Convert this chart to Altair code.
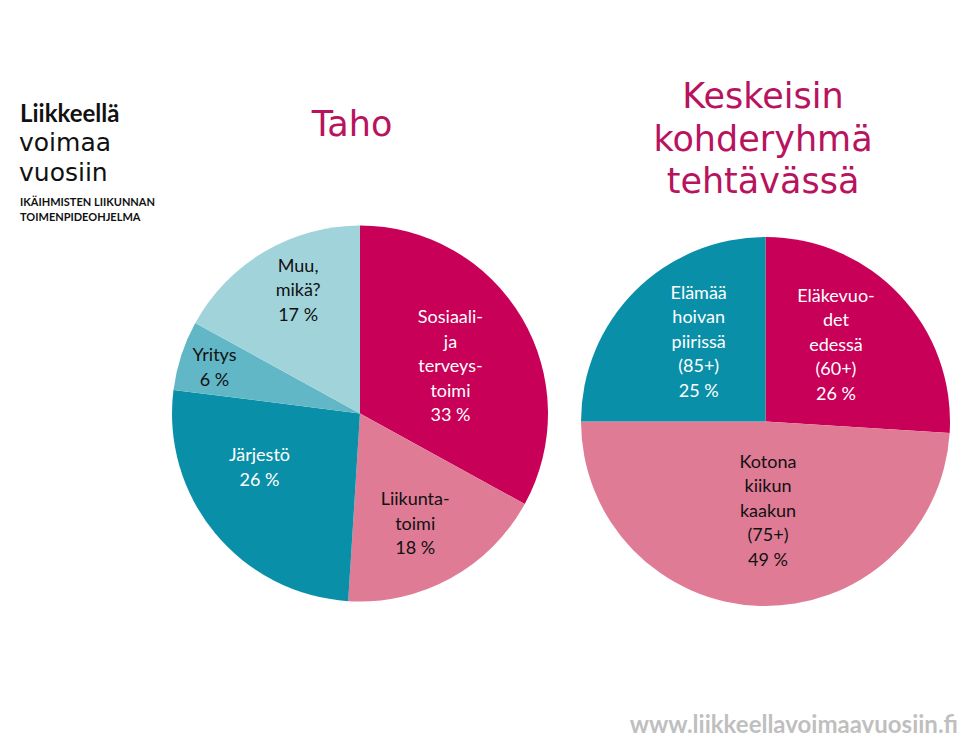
import altair as alt
import pandas as pd

# ---- data ----
taho_cats = ["Sosiaali- ja terveystoimi", "Liikuntatoimi", "Järjestö", "Yritys", "Muu, mikä?"]
taho_vals = [33, 18, 26, 6, 17]
taho_labels = ["Sosiaali-\nja\nterveys-\ntoimi", "Liikunta-\ntoimi", "Järjestö", "Yritys", "Muu,\nmikä?"]

kohde_cats = ["Eläkevuodet edessä (60+)", "Kotona kiikun kaakun (75+)", "Elämää hoivan piirissä (85+)"]
kohde_vals = [26, 49, 25]
kohde_labels = ["Eläkevuo-\ndet\nedessä\n(60+)", "Kotona\nkiikun\nkaakun\n(75+)", "Elämää\nhoivan\npiirissä\n(85+)"]

# ---- styles / layout ----
CRIMSON = "#C80058"
PINK = "#E07B96"
TEAL = "#0A8FA8"
MIDTEAL = "#62B7C7"
LIGHTTEAL = "#A1D4DA"
TITLE_COL = "#B8135E"

taho_colors = [CRIMSON, PINK, TEAL, MIDTEAL, LIGHTTEAL]
kohde_colors = [CRIMSON, PINK, TEAL]
# label placement: fraction of radius, and angular nudge (degrees) from the slice middle
taho_label_frac = [0.54, 0.66, 0.61, 0.81, 0.73]
taho_label_nudge = [3.6, 2.4, 10.8, -0.8, 3.8]
kohde_label_frac = [0.56, 0.49, 0.56]
kohde_label_nudge = [-3.8, -3.4, 4.7]
dark_slices = ["Sosiaali- ja terveystoimi", "Järjestö",
               "Eläkevuodet edessä (60+)", "Elämää hoivan piirissä (85+)"]

FONT = "Lato"
LH = 24.5


def pie(cats, vals, labels, colors, fracs, nudges, cx, cy, r):
    df = pd.DataFrame({
        "cat": cats,
        "val": vals,
        "order": list(range(len(cats))),
        "text": [f"{l}\n{v} %" for l, v in zip(labels, vals)],
        "frac": fracs,
        "nudge": nudges,
    })
    base = alt.Chart(df)
    arcs = base.mark_arc(radius=r).encode(
        theta=alt.Theta("val:Q", stack=True),
        order=alt.Order("order:Q"),
        color=alt.Color("cat:N", scale=alt.Scale(domain=cats, range=colors), legend=None),
        x=alt.value(cx),
        y=alt.value(cy),
        tooltip=["cat:N", "val:Q"],
    )
    text = base.transform_window(
        cum="sum(val)", sort=[alt.SortField("order")], frame=[None, 0]
    ).transform_joinaggregate(
        total="sum(val)"
    ).transform_calculate(
        mid="2*PI*(datum.cum - datum.val/2)/datum.total + datum.nudge*PI/180",
        lines="split(datum.text, '\\n')",
        idxs="sequence(length(split(datum.text, '\\n')))",
        n="length(split(datum.text, '\\n'))",
    ).transform_flatten(
        ["lines", "idxs"], ["line", "idx"]
    ).transform_calculate(
        px=f"{cx} + datum.frac*{r}*sin(datum.mid)",
        py=f"{cy} - datum.frac*{r}*cos(datum.mid) + (datum.idx - (datum.n-1)/2)*{LH}",
    ).mark_text(
        font=FONT, fontSize=18, align="center", baseline="middle",
    ).encode(
        x=alt.X("px:Q", scale=None),
        y=alt.Y("py:Q", scale=None),
        text="line:N",
        color=alt.condition(alt.FieldOneOfPredicate(field="cat", oneOf=dark_slices),
                            alt.value("white"), alt.value("#111111")),
    )
    return alt.layer(arcs, text).resolve_scale(color="independent")


def label(text, x, y, **kw):
    return alt.Chart(alt.Data(values=[{"a": 1}])).mark_text(text=text, **kw).encode(
        x=alt.value(x), y=alt.value(y)
    )


pie1 = pie(taho_cats, taho_vals, taho_labels, taho_colors, taho_label_frac,
           taho_label_nudge, 360, 413.5, 188)
pie2 = pie(kohde_cats, kohde_vals, kohde_labels, kohde_colors, kohde_label_frac,
           kohde_label_nudge, 765.5, 421.5, 184.5)

titles = [
    label("Taho", 352, 125, font="DejaVu Sans", fontSize=35, color=TITLE_COL,
          align="center", baseline="middle"),
    label(["Keskeisin", "kohderyhmä", "tehtävässä"], 763, 97, font="DejaVu Sans",
          fontSize=35, lineHeight=42.5, color=TITLE_COL, align="center", baseline="middle"),
    label("Liikkeellä", 20, 122, font=FONT, fontSize=24, fontWeight="bold",
          color="#111111", align="left", baseline="alphabetic"),
    label("voimaa", 19, 151, font="DejaVu Sans", fontSize=25,
          color="#111111", align="left", baseline="alphabetic"),
    label("vuosiin", 19, 180.5, font="DejaVu Sans", fontSize=25,
          color="#111111", align="left", baseline="alphabetic"),
    label("IKÄIHMISTEN LIIKUNNAN", 20, 206, font=FONT, fontSize=11,
          fontWeight="bold", color="#111111", align="left", baseline="alphabetic"),
    label("TOIMENPIDEOHJELMA", 20, 221, font=FONT, fontSize=11,
          fontWeight="bold", color="#111111", align="left", baseline="alphabetic"),
    label("www.liikkeellavoimaavuosiin.fi", 958, 733, font=FONT, fontSize=24,
          fontWeight="bold", color="#BFBFBF", align="right", baseline="alphabetic"),
]

chart = alt.layer(pie1, pie2, *titles).resolve_scale(
    theta="independent", color="independent"
).properties(
    width=960, height=737, padding=0,
    autosize=alt.AutoSizeParams(type="none"),
    background="white",
).configure_view(stroke=None)

chart.save("out.html", embed_options={"renderer": "svg", "actions": False})
